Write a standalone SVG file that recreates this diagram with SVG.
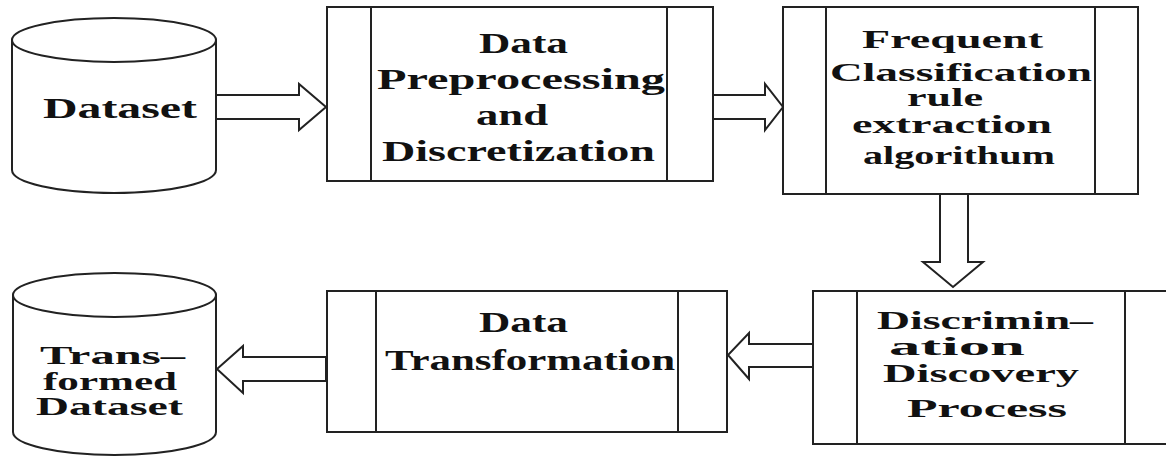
<svg xmlns="http://www.w3.org/2000/svg" width="1166" height="457" viewBox="0 0 1166 457">
<style>
.s{fill:#fff;stroke:#222;stroke-width:2}
.l{stroke:#222;stroke-width:2}
.t{font-family:"Liberation Serif","Times New Roman",Times,serif;font-weight:bold;font-size:30px;fill:#111;text-anchor:middle}
.c{font-size:25px}
</style>
<rect width="1166" height="457" fill="#fff"/>
<g id="connectors">
<polygon class="s" points="215,95 299,95 299,84 326,107 299,130 299,119 215,119"/>
<polygon class="s" points="713,95 765,95 765,84 783,107 765,130 765,119 713,119"/>
<polygon class="s" points="940,194 968,194 968,262 983,262 953,287 923,262 940,262"/>
<polygon class="s" points="813,344 749,344 749,333 728,355 749,379 749,367 813,367"/>
<polygon class="s" points="326,357 243,357 243,346 217,369 243,393 243,381 326,381"/>
</g>
<g id="dataset">
<path class="s" d="M12,40 L12,170 A102,23 0 0 0 216,170 L216,40 Z"/>
<ellipse class="s" cx="114" cy="40" rx="102" ry="22"/>
<text class="t" x="120" y="118" textLength="154" lengthAdjust="spacingAndGlyphs">Dataset</text>
</g>
<g id="preprocessing">
<rect class="s" x="327" y="7" width="386" height="174"/>
<line class="l" x1="371" y1="7" x2="371" y2="181"/>
<line class="l" x1="667" y1="7" x2="667" y2="181"/>
<text class="t" x="523.5" y="53" textLength="89" lengthAdjust="spacingAndGlyphs">Data</text>
<text class="t" x="521" y="89" textLength="288" lengthAdjust="spacingAndGlyphs">Preprocessing</text>
<text class="t" x="512" y="125" textLength="72" lengthAdjust="spacingAndGlyphs">and</text>
<text class="t" x="518.5" y="161" textLength="273" lengthAdjust="spacingAndGlyphs">Discretization</text>
</g>
<g id="frequent">
<rect class="s" x="783" y="7" width="355" height="187"/>
<line class="l" x1="826" y1="7" x2="826" y2="194"/>
<line class="l" x1="1095" y1="7" x2="1095" y2="194"/>
<text class="t c" x="952.5" y="48" textLength="181" lengthAdjust="spacingAndGlyphs">Frequent</text>
<text class="t c" x="961" y="81" textLength="262" lengthAdjust="spacingAndGlyphs">Classification</text>
<text class="t c" x="945" y="106" textLength="76" lengthAdjust="spacingAndGlyphs">rule</text>
<text class="t c" x="952" y="133" textLength="200" lengthAdjust="spacingAndGlyphs">extraction</text>
<text class="t c" x="959" y="164" textLength="192" lengthAdjust="spacingAndGlyphs">algorithum</text>
</g>
<g id="discrimination">
<rect class="s" x="813" y="291" width="362" height="153"/>
<line class="l" x1="857" y1="291" x2="857" y2="444"/>
<line class="l" x1="1125" y1="291" x2="1125" y2="444"/>
<text class="t c" x="985" y="329" textLength="216" lengthAdjust="spacingAndGlyphs">Discrimin–</text>
<text class="t c" x="957" y="355" textLength="136" lengthAdjust="spacingAndGlyphs">ation</text>
<text class="t c" x="981" y="382" textLength="196" lengthAdjust="spacingAndGlyphs">Discovery</text>
<text class="t c" x="987" y="417" textLength="160" lengthAdjust="spacingAndGlyphs">Process</text>
</g>
<g id="transformation">
<rect class="s" x="327" y="291" width="400" height="141"/>
<line class="l" x1="376" y1="291" x2="376" y2="432"/>
<line class="l" x1="678" y1="291" x2="678" y2="432"/>
<text class="t" x="523.5" y="332" textLength="89" lengthAdjust="spacingAndGlyphs">Data</text>
<text class="t" x="530" y="370" textLength="290" lengthAdjust="spacingAndGlyphs">Transformation</text>
</g>
<g id="transformed-dataset">
<path class="s" d="M13,295 L13,432 A101.5,23 0 0 0 216,432 L216,295 Z"/>
<ellipse class="s" cx="114.5" cy="295" rx="101.5" ry="22"/>
<text class="t c" x="112.5" y="364" textLength="145" lengthAdjust="spacingAndGlyphs">Trans–</text>
<text class="t c" x="110" y="390" textLength="134" lengthAdjust="spacingAndGlyphs">formed</text>
<text class="t c" x="109.5" y="415" textLength="147" lengthAdjust="spacingAndGlyphs">Dataset</text>
</g>
</svg>
